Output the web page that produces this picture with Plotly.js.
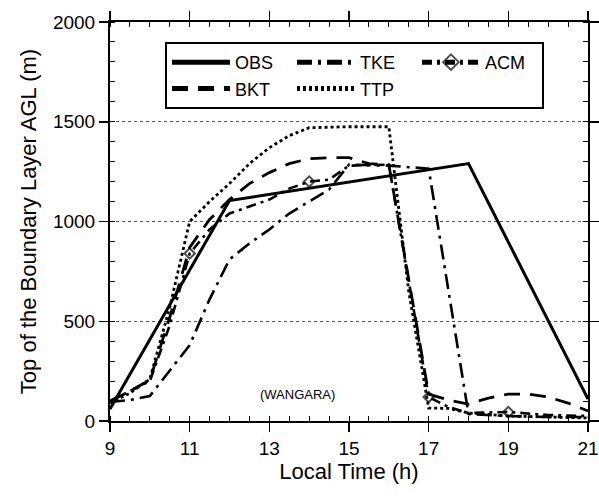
<!DOCTYPE html>
<html>
<head>
<meta charset="utf-8">
<script src="https://cdn.plot.ly/plotly-3.0.1.min.js"></script>
<style>html,body{margin:0;padding:0;background:#fff;}#chart{width:599px;height:497px;}</style>
</head>
<body>
<div id="chart"></div>
<script>
// ---- data ----
const obsX = [9, 12, 18, 21];
const obsY = [60, 1105, 1290, 110];

const tkeX = [9, 9.5, 10, 10.5, 11, 11.5, 12, 12.5, 13, 13.5, 14, 14.5, 15, 16, 17, 18, 19, 20, 21];
const tkeY = [95, 105, 125, 250, 380, 610, 810, 890, 960, 1040, 1100, 1160, 1285, 1280, 1265, 35, 25, 20, 20];

const acmX = [9, 9.5, 10, 10.5, 11, 11.5, 12, 12.5, 13, 13.5, 14, 14.5, 15, 16, 17, 17.5, 18, 19, 20, 21];
const acmY = [100, 150, 200, 480, 840, 960, 1040, 1075, 1110, 1165, 1200, 1210, 1280, 1285, 120, 70, 40, 45, 30, 25];
const acmMarkerAt = [11, 14, 17, 19];

const bktX = [9, 9.5, 10, 10.5, 11, 11.5, 12, 12.5, 13, 13.5, 14, 14.5, 15, 15.5, 16, 17, 17.5, 18, 18.5, 19, 19.5, 20, 20.5, 21];
const bktY = [100, 150, 205, 520, 870, 1010, 1110, 1190, 1245, 1290, 1315, 1320, 1320, 1290, 1285, 135, 105, 85, 115, 135, 135, 120, 90, 50];

const ttpX = [9, 9.5, 10, 10.5, 11, 11.5, 12, 12.5, 13, 13.5, 14, 15, 16, 16.5, 17, 17.5, 18, 19, 20, 21];
const ttpY = [90, 140, 210, 570, 1000, 1100, 1190, 1290, 1370, 1430, 1470, 1475, 1475, 650, 65, 63, 40, 25, 20, 15];

const seriesNames = ['OBS', 'TKE', 'ACM', 'BKT', 'TTP'];
const xTicks = [9, 11, 13, 15, 17, 19, 21];
const yTicks = [0, 500, 1000, 1500, 2000];
const noteText = '(WANGARA)';
const noteX = 13.7, noteY = 135;

// ---- chart ----
const F = 'Liberation Sans, Arial, sans-serif';
const traces = [
  {x: obsX, y: obsY, name: seriesNames[0], mode: 'lines',
   line: {color: '#000', width: 3, dash: 'solid'}},
  {x: tkeX, y: tkeY, name: seriesNames[1], mode: 'lines',
   line: {color: '#000', width: 2.6, dash: '15px,6px,3px,6px'}},
  {x: acmX, y: acmY, name: seriesNames[2], mode: 'lines+markers',
   line: {color: '#000', width: 2.6, dash: '10px,5px,3px,5px'},
   marker: {symbol: 'diamond-open', color: '#000', line: {width: 2, color: '#000'},
            size: acmX.map(v => acmMarkerAt.includes(v) ? 8 : 0)}},
  {x: bktX, y: bktY, name: seriesNames[3], mode: 'lines',
   line: {color: '#000', width: 2.8, dash: '16px,10px'}},
  {x: ttpX, y: ttpY, name: seriesNames[4], mode: 'lines',
   line: {color: '#000', width: 2.8, dash: '3px,3px'}}
];

const layout = {
  width: 599, height: 497,
  margin: {l: 110, r: 11, t: 22, b: 76},
  paper_bgcolor: '#fff', plot_bgcolor: '#fff',
  font: {family: F, color: '#000'},
  showlegend: true,
  legend: {
    x: 0.115, xanchor: 'left', y: 0.95, yanchor: 'top',
    orientation: 'h', entrywidth: 52, entrywidthmode: 'pixels', itemwidth: 58,
    itemsizing: 'constant',
    bordercolor: '#000', borderwidth: 2, bgcolor: '#fff',
    font: {family: F, size: 18, color: '#000'}
  },
  xaxis: {
    range: [9, 21], tickvals: xTicks, ticktext: xTicks.map(String),
    ticks: 'outside', ticklen: 9, tickwidth: 1.5, tickcolor: '#000',
    minor: {dtick: 0.5, tick0: 9, ticks: 'inside', ticklen: 5, tickwidth: 1, tickcolor: '#000'},
    showline: true, linecolor: '#000', linewidth: 2, mirror: 'allticks',
    showgrid: false, zeroline: false,
    tickfont: {family: F, size: 19, color: '#000'},
    title: {text: 'Local Time (h)', font: {family: F, size: 22, color: '#000'}, standoff: 6}
  },
  yaxis: {
    range: [0, 2000], tickvals: yTicks, ticktext: yTicks.map(String),
    ticks: 'outside', ticklen: 9, tickwidth: 1.5, tickcolor: '#000',
    minor: {dtick: 100, tick0: 0, ticks: 'inside', ticklen: 5, tickwidth: 1, tickcolor: '#000'},
    showline: true, linecolor: '#000', linewidth: 2, mirror: 'allticks',
    showgrid: true, gridcolor: '#555', gridwidth: 1, griddash: 'dot', zeroline: false,
    tickfont: {family: F, size: 19, color: '#000'},
    title: {text: 'Top of the Boundary Layer AGL (m)', font: {family: F, size: 22, color: '#000'}, standoff: 10}
  },
  xaxis2: {overlaying: 'x', anchor: 'y', side: 'bottom', range: [9, 21], tickvals: xTicks,
    showticklabels: false, ticks: 'inside', ticklen: 9, tickwidth: 1.5, tickcolor: '#000',
    showline: false, showgrid: false, zeroline: false, mirror: 'ticks'},
  yaxis2: {overlaying: 'y', anchor: 'x', side: 'left', range: [0, 2000], tickvals: yTicks,
    showticklabels: false, ticks: 'inside', ticklen: 9, tickwidth: 1.5, tickcolor: '#000',
    showline: false, showgrid: false, zeroline: false, mirror: 'ticks'},
  annotations: [{x: noteX, y: noteY, xref: 'x', yref: 'y', text: noteText, showarrow: false,
    font: {family: F, size: 13, color: '#000'}}]
};

Plotly.newPlot('chart', traces, layout, {displayModeBar: false, staticPlot: true});
</script>
</body>
</html>
